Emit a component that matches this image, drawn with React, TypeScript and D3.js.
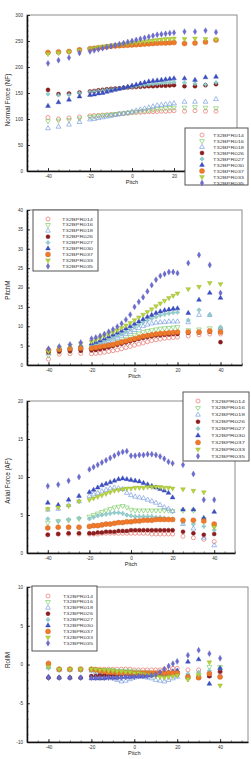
import React, { useEffect, useRef } from "react";
import * as d3 from "d3";

// pitch sweep: coarse at the ends, every 2 deg in the middle
const pitch = [-40, -35, -30, -25,
  -20, -18, -16, -14, -12, -10, -8, -6, -4, -2, 0, 2, 4, 6, 8, 10, 12, 14, 16, 18, 20,
  25, 30, 35, 40];

const runNames = ["T32BPR014", "T32BPR016", "T32BPR018", "T32BPR026", "T32BPR027",
  "T32BPR030", "T32BPR037", "T32BPR033", "T32BPR035"];
const runColors = ["#e8736b", "#7fce6a", "#7b9fe0", "#8e1c1c", "#8fd4d4",
  "#3a4fc8", "#f07a2a", "#b5d43a", "#6b6bd4"];
const runShapes = ["circle", "down", "triangle", "circle", "plus",
  "triangle", "circle", "down", "diamond"];
const runOpen = [true, true, true, false, false, false, false, false, false];

// Normal Force (NF)
const nf014 = [103, 100, 102, 104,
  106, 106.5, 107, 107.5, 108, 108.5, 109, 110, 110.5, 111, 112, 112.5, 113, 113.5, 114, 114, 114.5, 115, 115, 115.5, 116,
  115, 116, 115, 115];
const nf016 = [96, 97, 98, 101,
  104, 105, 106, 107, 107.5, 108.5, 109.5, 110.5, 111, 112, 113, 114, 115, 116, 117, 118, 119, 120, 121, 121.5, 122,
  122, 123, 122, 121];
const nf018 = [82, 85, 89, 94,
  99, 100, 101.5, 103, 104.5, 106, 107.5, 109, 110.5, 112, 114, 116, 118, 120, 122, 124, 126, 127, 128, 129, 130,
  133, 133, 133, 138];
const nf026 = [156, 148, 149, 151,
  153, 154, 155, 156, 157, 158, 158.5, 159, 160, 160.5, 161, 161.5, 162, 162.5, 163, 163, 163.5, 164, 164, 164.5, 165,
  163, 163, 165, 167];
const nf027 = [148, 146, 147, 150,
  152, 153, 154, 155, 156, 157, 158, 159, 160, 161, 162, 163, 164, 165, 166, 167, 168, 169, 170, 170, 171,
  170, 168, 166, 170];
const nf030 = [125, 132, 137, 143,
  146, 147, 149, 150, 152, 154, 156, 158, 160, 162, 164, 166, 168, 170, 172, 173, 174, 175, 176, 177, 178,
  178, 175, 180, 181];
const nf037 = [228, 229, 230, 233,
  235, 236, 237, 238, 239, 240, 240.5, 241, 241.5, 242, 242.5, 243, 243.5, 244, 244.5, 245, 245.5, 246, 246, 246.5, 247,
  245, 246, 248, 252];
const nf033 = [225, 227, 229, 232,
  235, 236.5, 238, 239, 240, 241, 242, 243, 244, 245, 246, 247, 248, 249, 250, 251, 252, 253, 254, 254, 255,
  254, 255, 254, 253];
const nf035 = [207, 213, 218, 227,
  230, 232, 234, 236, 238, 240, 242, 244, 246, 248, 250, 252, 254, 256, 258, 260, 262, 263, 264, 265, 266,
  268, 268, 270, 267];

// PitchM
const pm014 = [1.5, 2.8, 2.9, 3.0,
  2.9, 3.0, 3.1, 3.3, 3.5, 3.7, 3.9, 4.2, 4.5, 4.8, 5.1, 5.4, 5.7, 6.0, 6.3, 6.5, 6.7, 6.9, 7.0, 7.1, 7.2,
  7.5, 7.8, 8.0, 8.0];
const pm016 = [2.5, 3.4, 3.6, 3.8,
  4.0, 4.3, 4.6, 4.9, 5.2, 5.5, 5.9, 6.3, 6.8, 7.3, 7.8, 8.2, 8.5, 8.8, 9.0, 9.2, 9.4, 9.5, 9.6, 9.7, 9.8,
  9.0, 9.2, 9.5, 9.2];
const pm018 = [3.0, 3.8, 4.0, 4.2,
  4.6, 5.0, 5.4, 5.8, 6.2, 6.6, 7.0, 7.5, 8.0, 8.5, 9.0, 9.5, 10.0, 10.4, 10.7, 10.9, 11.0, 11.1, 11.2, 11.2, 11.2,
  11.0, 12.9, 12.9, 9.5];
const pm026 = [3.3, 3.5, 3.6, 3.7,
  3.8, 3.9, 4.1, 4.3, 4.6, 4.9, 5.2, 5.5, 5.8, 6.1, 6.4, 6.7, 7.0, 7.2, 7.4, 7.6, 7.7, 7.8, 7.9, 8.0, 8.0,
  8.3, 8.4, 8.6, 5.9];
const pm027 = [3.6, 4.0, 4.3, 4.6,
  5.0, 5.4, 5.8, 6.2, 6.6, 7.0, 7.5, 8.0, 8.6, 9.2, 9.8, 10.4, 11.0, 11.5, 12.0, 12.4, 12.8, 13.1, 13.3, 13.5, 13.6,
  11.6, 14.2, 12.9, 9.8];
const pm030 = [4.0, 4.2, 4.5, 5.0,
  5.5, 5.9, 6.3, 6.8, 7.3, 7.8, 8.3, 8.8, 9.4, 10.0, 10.6, 11.2, 11.8, 12.4, 12.9, 13.4, 13.8, 14.1, 14.3, 14.5, 14.6,
  13.4, 16.8, 18.6, 17.3];
const pm037 = [3.8, 4.0, 4.2, 4.3,
  4.3, 4.5, 4.7, 4.9, 5.1, 5.3, 5.6, 5.9, 6.2, 6.5, 6.8, 7.1, 7.4, 7.6, 7.8, 8.0, 8.1, 8.2, 8.3, 8.4, 8.5,
  8.5, 8.5, 8.8, 8.5];
const pm033 = [3.5, 4.5, 5.0, 5.5,
  6.0, 6.5, 7.0, 7.5, 8.0, 8.5, 9.0, 9.6, 10.2, 10.9, 11.6, 12.3, 13.0, 13.7, 14.4, 15.2, 15.9, 16.6, 17.3, 17.9, 18.5,
  19.6, 20.2, 21.2, 20.9];
const pm035 = [4.2, 4.8, 5.3, 5.8,
  6.8, 7.1, 7.5, 8.0, 8.6, 9.2, 9.9, 10.7, 11.7, 13.0, 15.0, 16.3, 17.5, 19.0, 20.6, 22.0, 23.0, 23.5, 24.0, 24.0, 23.7,
  26.3, 28.4, 25.8, 18.6];

// Axial Force (AF)
const af014 = [2.4, 2.5, 2.5, 2.5,
  2.5, 2.5, 2.5, 2.6, 2.6, 2.6, 2.6, 2.6, 2.6, 2.6, 2.6, 2.6, 2.6, 2.6, 2.6, 2.5, 2.5, 2.5, 2.5, 2.5, 2.5,
  2.2, 2.0, 1.8, 1.5];
const af016 = [4.0, 4.2, 4.3, 4.5,
  4.8, 5.0, 5.2, 5.4, 5.6, 5.8, 6.0, 6.1, 6.2, 6.0, 5.7, 5.6, 5.6, 5.6, 5.6, 5.6, 5.6, 5.6, 5.6, 5.6, 5.5,
  5.6, 5.6, 4.5, 3.5];
const af018 = [5.7, 5.8, 6.3, 6.8,
  7.5, 7.7, 7.9, 8.1, 8.3, 8.5, 8.6, 8.5, 8.4, 7.9, 7.6, 7.4, 7.3, 7.2, 7.0, 6.8, 6.6, 6.3, 6.0, 5.8, 5.5,
  3.8, 3.2, 2.0, 1.0];
const af026 = [2.4, 2.5, 2.6, 2.6,
  2.6, 2.6, 2.7, 2.7, 2.8, 2.8, 2.8, 2.9, 2.9, 2.9, 3.0, 3.0, 3.0, 3.0, 3.0, 3.0, 3.0, 3.0, 3.0, 3.0, 3.0,
  2.8, 2.6, 2.4, 2.5];
const af027 = [4.5, 4.2, 4.4, 4.6,
  4.5, 4.7, 4.9, 5.0, 5.1, 5.2, 5.3, 5.3, 5.2, 5.0, 4.9, 4.8, 4.8, 4.8, 4.8, 4.8, 4.7, 4.7, 4.6, 4.5, 4.4,
  4.0, 3.8, 3.5, 3.0];
const af030 = [6.6, 6.3, 7.0, 7.5,
  8.0, 8.3, 8.6, 8.9, 9.1, 9.3, 9.5, 9.7, 9.8, 9.7, 9.6, 9.5, 9.4, 9.2, 9.0, 8.8, 8.6, 8.4, 8.2, 7.9, 7.3,
  5.7, 5.7, 4.6, 5.4];
const af037 = [3.3, 3.4, 3.4, 3.4,
  3.5, 3.6, 3.6, 3.7, 3.8, 3.8, 3.9, 4.0, 4.0, 4.1, 4.1, 4.2, 4.2, 4.3, 4.3, 4.3, 4.4, 4.4, 4.4, 4.4, 4.4,
  4.3, 4.3, 4.2, 3.8];
const af033 = [5.8, 6.0, 6.2, 6.8,
  7.0, 7.2, 7.4, 7.6, 7.8, 8.0, 8.2, 8.3, 8.4, 8.5, 8.5, 8.6, 8.6, 8.6, 8.7, 8.7, 8.7, 8.7, 8.6, 8.6, 8.5,
  8.4, 8.2, 8.0, 3.4];
const af035 = [8.8, 9.0, 9.5, 10.0,
  11.0, 11.3, 11.6, 11.9, 12.2, 12.5, 12.8, 13.1, 13.3, 13.4, 12.8, 12.8, 12.9, 12.9, 13.0, 13.0, 12.9, 12.7, 12.4, 12.0, 11.8,
  11.6, 10.4, 7.0, 7.0];

// RollM
const rm014 = [0.2, -0.6, -0.6, -0.6,
  -0.6, -0.6, -0.6, -0.6, -0.6, -0.6, -0.6, -0.6, -0.6, -0.6, -0.7, -0.7, -0.7, -0.7, -0.7, -0.7, -0.7, -0.6, -0.6, -0.5, -0.5,
  -0.7, -0.7, -1.1, -1.0];
const rm016 = [-0.1, -0.7, -0.7, -0.7,
  -0.7, -0.7, -0.7, -0.7, -0.7, -0.7, -0.8, -0.8, -0.8, -0.8, -0.9, -0.9, -1.0, -1.0, -1.1, -1.2, -1.3, -1.4, -1.3, -1.2, -1.1,
  -1.9, -1.5, -0.3, -0.3];
const rm018 = [-0.3, -0.7, -0.7, -0.7,
  -0.8, -1.0, -1.2, -1.4, -1.6, -1.8, -2.0, -2.2, -2.1, -1.9, -1.7, -1.6, -1.6, -1.7, -1.8, -2.0, -2.1, -2.2, -2.0, -1.8, -1.6,
  -1.7, -1.6, -1.5, -1.4];
const rm026 = [-1.7, -1.7, -1.7, -1.7,
  -1.5, -1.5, -1.4, -1.4, -1.4, -1.4, -1.4, -1.3, -1.3, -1.3, -1.3, -1.3, -1.3, -1.3, -1.3, -1.3, -1.3, -1.3, -1.3, -1.3, -1.3,
  -1.5, -1.7, -1.5, -0.9];
const rm027 = [-0.5, -0.6, -0.6, -0.7,
  -0.7, -0.7, -0.8, -0.8, -0.8, -0.9, -0.9, -0.9, -1.0, -1.0, -1.0, -1.1, -1.1, -1.1, -1.2, -1.2, -1.2, -1.3, -1.3, -1.3, -1.4,
  -1.2, -1.0, -0.8, -0.5];
const rm030 = [-1.6, -1.7, -1.7, -1.7,
  -1.8, -1.8, -1.8, -1.8, -1.7, -1.7, -1.7, -1.6, -1.6, -1.6, -1.5, -1.5, -1.5, -1.4, -1.4, -1.3, -1.2, -1.1, -1.0, -0.9, -0.8,
  0.35, 0.65, -2.5, -0.5];
const rm037 = [0.1, -0.6, -0.6, -0.6,
  -0.6, -0.7, -0.8, -0.9, -1.0, -1.0, -1.1, -1.1, -1.1, -1.1, -1.1, -1.1, -1.1, -1.1, -1.1, -1.1, -1.1, -1.1, -1.1, -1.1, -1.1,
  -1.6, -1.7, -1.2, -1.6];
const rm033 = [-0.3, -0.6, -0.6, -0.6,
  -0.6, -0.6, -0.7, -0.7, -0.8, -0.8, -0.9, -0.9, -1.0, -1.0, -1.1, -1.1, -1.2, -1.3, -1.4, -1.5, -1.6, -1.7, -1.6, -1.5, -1.4,
  -1.9, -1.3, 0.3, -2.7];
const rm035 = [-1.7, -1.7, -1.7, -1.7,
  -1.7, -1.7, -1.7, -1.7, -1.7, -1.7, -1.7, -1.7, -1.6, -1.6, -1.6, -1.5, -1.5, -1.5, -1.4, -1.3, -1.0, -0.6, -0.2, 0.1, 0.4,
  1.2, 1.85, 1.4, 0.8];

const normalForce = [nf014, nf016, nf018, nf026, nf027, nf030, nf037, nf033, nf035];
const pitchMoment = [pm014, pm016, pm018, pm026, pm027, pm030, pm037, pm033, pm035];
const axialForce = [af014, af016, af018, af026, af027, af030, af037, af033, af035];
const rollMoment = [rm014, rm016, rm018, rm026, rm027, rm030, rm037, rm033, rm035];

const xTicks = [-40, -20, 0, 20, 40];

interface LegendBox { x: number; y: number; w: number; h: number; mx: number; tx: number; tw: number; y0: number; dy: number; }

interface PanelSpec {
  values: number[][];
  yLabel: string;
  yDomain: [number, number];
  yStep: number;
  yMinor: number;
  xDomain: [number, number];
  xLabelled: number[]; // tick labels not hidden under the legend
  left: number; right: number; top: number; bottom: number;
  labelCy: number;
  legend: LegendBox;
}

const panels: PanelSpec[] = [
  { values: normalForce, yLabel: "Normal Force (NF)", yDomain: [0, 300], yStep: 50, yMinor: 10, xDomain: [-50, 50],
    xLabelled: [-40, -20, 0, 20],
    left: 27, right: 237, top: 15, bottom: 171, labelCy: 100,
    legend: { x: 185, y: 128, w: 63, h: 57, mx: 17, tx: 28, tw: 31, y0: 7, dy: 6 } },
  { values: pitchMoment, yLabel: "PitchM", yDomain: [0, 40], yStep: 5, yMinor: 1, xDomain: [-50, 50],
    xLabelled: xTicks,
    left: 27, right: 242, top: 210, bottom: 365, labelCy: 290,
    legend: { x: 33, y: 210, w: 65, h: 61, mx: 15, tx: 29, tw: 31, y0: 9, dy: 5.9 } },
  { values: axialForce, yLabel: "Axial Force (AF)", yDomain: [0, 20], yStep: 5, yMinor: 1, xDomain: [-50, 50],
    xLabelled: xTicks,
    left: 27, right: 235, top: 401, bottom: 553, labelCy: 481,
    legend: { x: 183, y: 392, w: 66, h: 69, mx: 15, tx: 28, tw: 34, y0: 9, dy: 6.9 } },
  { values: rollMoment, yLabel: "RollM", yDomain: [-10, 10], yStep: 5, yMinor: 1, xDomain: [-50, 53],
    xLabelled: xTicks,
    left: 27, right: 248, top: 587, bottom: 742, labelCy: 660,
    legend: { x: 32, y: 586, w: 65, h: 65, mx: 16, tx: 31, tw: 30, y0: 10, dy: 5.9 } },
];

const FONT = "'Liberation Sans', Arial, sans-serif";

function markerPath(shape: string, big: boolean) {
  const type = shape === "circle" ? d3.symbolCircle
    : shape === "diamond" ? d3.symbolDiamond
    : shape === "plus" ? d3.symbolCross
    : d3.symbolTriangle;
  const size = shape === "circle" ? (big ? 20 : 13) : shape === "plus" ? 8 : 10;
  return d3.symbol().type(type).size(size)() as string;
}

function drawMarker(sel: any, i: number) {
  const c = runColors[i];
  sel
    .attr("d", markerPath(runShapes[i], i === 6))
    .attr("fill", runOpen[i] ? "none" : c)
    .attr("stroke", runOpen[i] ? c : d3.color(c)!.darker(0.5).formatHex())
    .attr("stroke-width", runOpen[i] ? 0.7 : 0.4);
}

function drawPanel(svg: any, p: PanelSpec) {
  const g = svg.append("g");
  const x = d3.scaleLinear().domain(p.xDomain).range([p.left, p.right]);
  const y = d3.scaleLinear().domain(p.yDomain).range([p.bottom, p.top]);

  // frame
  g.append("rect")
    .attr("x", p.left).attr("y", p.top)
    .attr("width", p.right - p.left).attr("height", p.bottom - p.top)
    .attr("fill", "#fff").attr("stroke", "#8c8c8c").attr("stroke-width", 1);

  const yTicks = d3.range(p.yDomain[0], p.yDomain[1] + 0.001, p.yStep);
  const yMinorTicks = d3.range(p.yDomain[0], p.yDomain[1] + 0.001, p.yMinor);
  const xMinorTicks = d3.range(-50, p.xDomain[1] + 0.001, 5);

  // minor ticks
  g.append("g")
    .attr("transform", `translate(0,${p.bottom})`)
    .call(d3.axisBottom(x).tickValues(xMinorTicks).tickSize(-1.6).tickSizeOuter(0).tickFormat(() => ""))
    .call((a: any) => a.select(".domain").remove())
    .selectAll("line").attr("stroke", "#333").attr("stroke-width", 0.6);
  g.append("g")
    .attr("transform", `translate(${p.left},0)`)
    .call(d3.axisLeft(y).tickValues(yMinorTicks).tickSize(-1.6).tickSizeOuter(0).tickFormat(() => ""))
    .call((a: any) => a.select(".domain").remove())
    .selectAll("line").attr("stroke", "#333").attr("stroke-width", 0.6);

  // major axes
  const xa = g.append("g")
    .attr("transform", `translate(0,${p.bottom})`)
    .call(d3.axisBottom(x).tickValues(xTicks).tickSize(-3).tickSizeOuter(0).tickPadding(4)
      .tickFormat((d: any) => (p.xLabelled.includes(d) ? String(d) : "")));
  const ya = g.append("g")
    .attr("transform", `translate(${p.left},0)`)
    .call(d3.axisLeft(y).tickValues(yTicks).tickSize(-3).tickSizeOuter(0).tickPadding(4).tickFormat((d: any) => String(d)));
  [xa, ya].forEach((a: any) => {
    a.select(".domain").attr("stroke", "#111").attr("stroke-width", 1.5);
    a.selectAll("line").attr("stroke", "#111").attr("stroke-width", 0.8);
    a.selectAll("text").attr("fill", "#333").style("font-size", "4.6px").style("font-family", FONT);
  });

  // data
  p.values.forEach((series, i) => {
    const pts = pitch.map((px, j) => [px, series[j]]);
    g.append("g").selectAll("path").data(pts).join("path")
      .call((s: any) => drawMarker(s, i))
      .attr("transform", (d: number[]) =>
        `translate(${x(d[0])},${y(d[1])})${runShapes[i] === "down" ? " rotate(180)" : ""}`);
  });

  // axis titles
  g.append("text")
    .attr("transform", `translate(10,${p.labelCy}) rotate(-90)`)
    .attr("text-anchor", "middle")
    .attr("fill", "#222")
    .style("font-size", "6.3px").style("font-family", FONT)
    .text(p.yLabel);
  g.append("text")
    .attr("x", x(0)).attr("y", p.bottom + 13)
    .attr("text-anchor", "middle")
    .attr("fill", "#222")
    .style("font-size", "5.6px").style("font-family", FONT)
    .text("Pitch");

  // legend
  const L = p.legend;
  const lg = g.append("g").attr("transform", `translate(${L.x},${L.y})`);
  lg.append("rect")
    .attr("width", L.w).attr("height", L.h)
    .attr("fill", "#fff").attr("stroke", "#555").attr("stroke-width", 1);
  runNames.forEach((name, i) => {
    const cy = L.y0 + i * L.dy;
    lg.append("path")
      .call((s: any) => drawMarker(s, i))
      .attr("transform", `translate(${L.mx},${cy})${runShapes[i] === "down" ? " rotate(180)" : ""}`);
    lg.append("text")
      .attr("x", L.tx).attr("y", cy + 1.5)
      .attr("textLength", L.tw).attr("lengthAdjust", "spacingAndGlyphs")
      .attr("fill", "#444")
      .style("font-size", "4.2px").style("font-family", FONT)
      .text(name);
  });
}

const App: React.FC = () => {
  const svgRef = useRef<SVGSVGElement>(null);

  useEffect(() => {
    if (!svgRef.current) return;
    const svg = d3.select(svgRef.current);
    svg.selectAll("*").remove();
    panels.forEach(p => drawPanel(svg, p));
  }, []);

  return (
    <div style={{ position: "absolute", left: 0, top: 0 }}>
      <svg ref={svgRef} width={251} height={759} style={{ display: "block", background: "#fff" }} />
    </div>
  );
};

export default App;
